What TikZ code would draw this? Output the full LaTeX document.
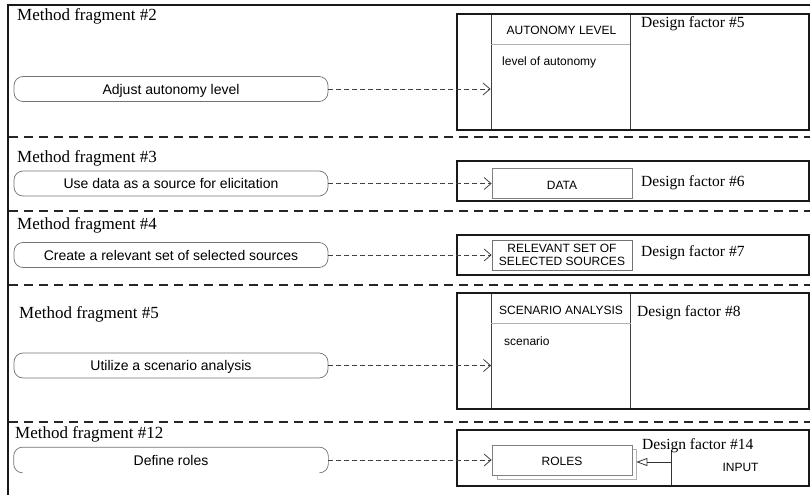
\documentclass[tikz,border=0pt]{standalone}
\usepackage{fontspec}
\setmainfont{Liberation Serif}
\newfontfamily\arialfont{Liberation Sans}
\usetikzlibrary{arrows.meta}

\begin{document}
\begin{tikzpicture}[x=1pt,y=-1pt,
  frag/.style={font=\fontsize{17}{20}\selectfont, anchor=base west, inner sep=0pt},
  dfac/.style={font=\fontsize{15.5}{18}\selectfont, anchor=base west, inner sep=0pt},
  pill/.style={draw=black!55, line width=0.7pt, rounded corners=9pt,
    minimum width=314pt, minimum height=25pt, inner sep=0pt,
    text height=10pt, text depth=0pt, font=\arialfont\fontsize{14}{16}\selectfont},
  small/.style={font=\arialfont\fontsize{12}{14.5}\selectfont, inner sep=0pt},
  elembox/.style={small, draw=black!50, line width=0.7pt, fill=white,
    minimum width=140pt, minimum height=30pt, text height=8.6pt, text depth=0pt},
  classbox/.style={draw=black!75, line width=0.8pt, minimum width=139pt, minimum height=116pt, inner sep=0pt},
  dfbox/.style={draw=black!90, line width=2pt, minimum width=352pt, inner sep=0pt},
  sep/.style={draw=black!85, line width=2pt, dash pattern=on 9pt off 6pt},
  conn/.style={draw=black!75, line width=0.8pt, dash pattern=on 5pt off 3pt,
    -{Straight Barb[length=7pt,width=12pt,line width=0.8pt]}},
  gen/.style={draw=black!80, line width=0.8pt,
    -{Triangle[open,length=11pt,width=8pt,line width=0.8pt]}}
]
\useasboundingbox (0,0) rectangle (810,495);

% outer frame (top and left edges)
\draw[line width=2pt, black!90] (8,495) -- (8,5) -- (810,5);

% row separators
\foreach \yy in {137,211,285,422}
  \draw[sep] (9,\yy) -- (810,\yy);

% ---------- Method fragment #2 / Design factor #5 ----------
\node[frag] (mf2) at (17,21) {Method fragment \#2};
\node[pill] (p2) at (171,89) {Adjust autonomy level};
\node[classbox] (autl) at (560.5,72) {};
\draw[black!30, line width=0.7pt] (autl.west |- 0,44) -- (autl.east |- 0,44);
\node[small, anchor=base] (autlh) at (561.5,35) {AUTONOMY LEVEL};
\node[small, anchor=base west] (autla) at (502,66) {level of autonomy};
\node[dfbox, minimum height=116pt] (df5) at (633,72) {};
\node[dfac] (df5t) at (641,28) {Design factor \#5};
\draw[conn] (p2.east) -- (p2.east -| autl.west);

% ---------- Method fragment #3 / Design factor #6 ----------
\node[frag] (mf3) at (17,162) {Method fragment \#3};
\node[pill] (p3) at (171,183.5) {Use data as a source for elicitation};
\node[dfbox, minimum height=40pt] (df6) at (633,181) {};
\node[elembox, text height=13pt] (data) at (562,183) {DATA};
\node[dfac] (df6t) at (641,186) {Design factor \#6};
\draw[conn] (p3.east) -- (p3.east -| data.west);

% ---------- Method fragment #4 / Design factor #7 ----------
\node[frag] (mf4) at (17,229) {Method fragment \#4};
\node[pill] (p4) at (171,255) {Create a relevant set of selected sources};
\node[dfbox, minimum height=40pt] (df7) at (633,255) {};
\node[small, draw=black!55, line width=0.7pt, fill=white, minimum width=140pt,
  minimum height=30pt, align=center] (rel) at (562,255)
  {RELEVANT SET OF\\[-1pt]SELECTED SOURCES};
\node[dfac] (df7t) at (641,256) {Design factor \#7};
\draw[conn] (p4.east) -- (p4.east -| rel.west);

% ---------- Method fragment #5 / Design factor #8 ----------
\node[frag] (mf5) at (19,318) {Method fragment \#5};
\node[pill] (p5) at (171,365.5) {Utilize a scenario analysis};
\node[classbox, minimum height=116pt] (scen) at (561,351) {};
\draw[black!30, line width=0.7pt] (scen.west |- 0,323) -- (scen.east |- 0,323);
\node[small, anchor=base] (scenh) at (561,314) {SCENARIO ANALYSIS};
\node[small, anchor=base west] (scena) at (504,345) {scenario};
\node[dfbox, minimum height=116pt] (df8) at (633,351) {};
\node[dfac] (df8t) at (637,316) {Design factor \#8};
\draw[conn] (p5.east) -- (p5.east -| scen.west);

% ---------- Method fragment #12 / Design factor #14 ----------
\node[frag] (mf12) at (15,438) {Method fragment \#12};
\node[pill, draw=none] (p12) at (171,460) {Define roles};
\draw[black!55, line width=0.7pt, rounded corners=9pt]
  ([xshift=9pt]p12.south west) -- (p12.south west) -- (p12.north west)
  -- (p12.north east) -- (p12.south east) -- ([xshift=-9pt]p12.south east);
\node[dfbox, minimum height=56pt] (df14) at (633,458) {};
\draw[black!30, line width=0.7pt] (497,449) rectangle (636,479);
\node[elembox, text height=11.6pt] (roles) at (562,460) {ROLES};
\node[small, minimum width=137pt, minimum height=35pt, text height=8.6pt, text depth=0pt]
  (input) at (740.5,467.5) {INPUT};
\draw[black!80, line width=0.8pt] (input.north west) -- (input.south west);
\node[dfac] (df14t) at (642,449) {Design factor \#14};
\draw[gen] ([yshift=-2pt]input.west |- roles.east) -- ([shift={(4pt,-2pt)}]roles.east);
\draw[conn] (p12.east) -- (p12.east -| roles.west);
\end{tikzpicture}
\end{document}
